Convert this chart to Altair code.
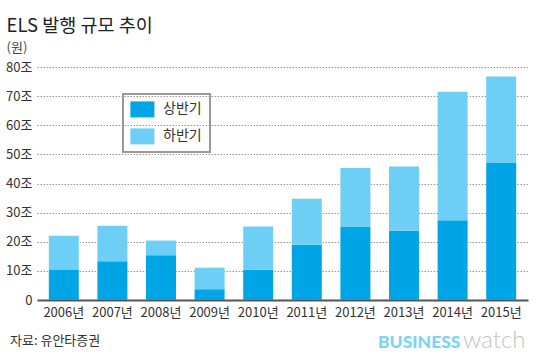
import altair as alt
import pandas as pd

years = ["2006년", "2007년", "2008년", "2009년", "2010년",
         "2011년", "2012년", "2013년", "2014년", "2015년"]
first_half = [10.5, 13.3, 15.4, 3.7, 10.4, 19.0, 25.2, 23.8, 27.4, 47.0]
second_half = [11.6, 12.2, 5.0, 7.4, 14.8, 15.8, 20.1, 22.0, 44.1, 29.7]
series = ["상반기", "하반기"]
colors = ["#00a5e6", "#6dcff6"]
y_ticks = [0, 10, 20, 30, 40, 50, 60, 70, 80]

rows = []
for y, a, b in zip(years, first_half, second_half):
    rows.append({"year": y, "series": series[0], "value": a, "ord": 0})
    rows.append({"year": y, "series": series[1], "value": b, "ord": 1})
df = pd.DataFrame(rows)

FONT = "Noto Sans CJK KR"

bars = alt.Chart(df).mark_bar().encode(
    x=alt.X("year:N", sort=years, title=None,
            scale=alt.Scale(paddingInner=0.383, paddingOuter=0.243),
            axis=alt.Axis(labelAngle=0, ticks=False, domainColor="#555",
                          domainWidth=2, labelFontSize=13, labelColor="#333",
                          labelFont=FONT, labelPadding=6, grid=False)),
    y=alt.Y("value:Q", stack="zero", title=None,
            scale=alt.Scale(domain=[0, 80], nice=False),
            axis=alt.Axis(values=y_ticks, ticks=False, domain=False,
                          labelExpr="datum.value == 0 ? '0' : datum.value + '조'",
                          labelFontSize=13, labelColor="#333", labelFont=FONT,
                          labelPadding=5, grid=True, gridColor="#999",
                          gridDash=[1.5, 1.5], gridWidth=1)),
    color=alt.Color("series:N", scale=alt.Scale(domain=series, range=colors),
                    legend=alt.Legend(orient="none", legendX=86, legendY=27,
                                      title=None, strokeColor="#999",
                                      padding=7.4,
                                      symbolType="M-1,-1H2V1H-1Z",
                                      symbolSize=256, symbolStrokeWidth=0,
                                      symbolOpacity=1,
                                      labelOffset=16.7, rowPadding=11,
                                      labelFontSize=14, labelFont=FONT,
                                      labelColor="#333")),
    order=alt.Order("ord:Q", sort="ascending"),
)

src = alt.Chart(pd.DataFrame({"t": ["자료: 유안타증권"]})).mark_text(
    align="left", baseline="middle", font=FONT, fontSize=13, color="#333"
).encode(text="t:N", x=alt.value(-27), y=alt.value(274))

logo1 = alt.Chart(pd.DataFrame({"t": ["BUSINESS"]})).mark_text(
    align="left", baseline="alphabetic", font="Lato", fontSize=17.5,
    fontWeight=900, color="#7dd3f7"
).encode(text="t:N", x=alt.value(341), y=alt.value(281))

logo2 = alt.Chart(pd.DataFrame({"t": ["watch"]})).mark_text(
    align="left", baseline="alphabetic", font="Lato", fontSize=24,
    fontWeight=300, color="#c4c4c4"
).encode(text="t:N", x=alt.value(426), y=alt.value(281))

chart = alt.layer(bars, src, logo1, logo2).properties(
    width=491, height=233,
    padding={"left": 37, "top": 67, "right": 12, "bottom": 57},
    autosize="none",
    title=alt.TitleParams(text="ELS 발행 규모 추이", subtitle="(원)",
                          anchor="start", dx=1, font=FONT, fontSize=18.5,
                          fontWeight="normal", color="#222",
                          subtitleFont=FONT, subtitleFontSize=13,
                          subtitleColor="#444", subtitlePadding=7, offset=6),
).configure_view(stroke=None).configure_legend(strokeWidth=2)

chart.save("out.html", embed_options={"renderer": "svg", "actions": False})
